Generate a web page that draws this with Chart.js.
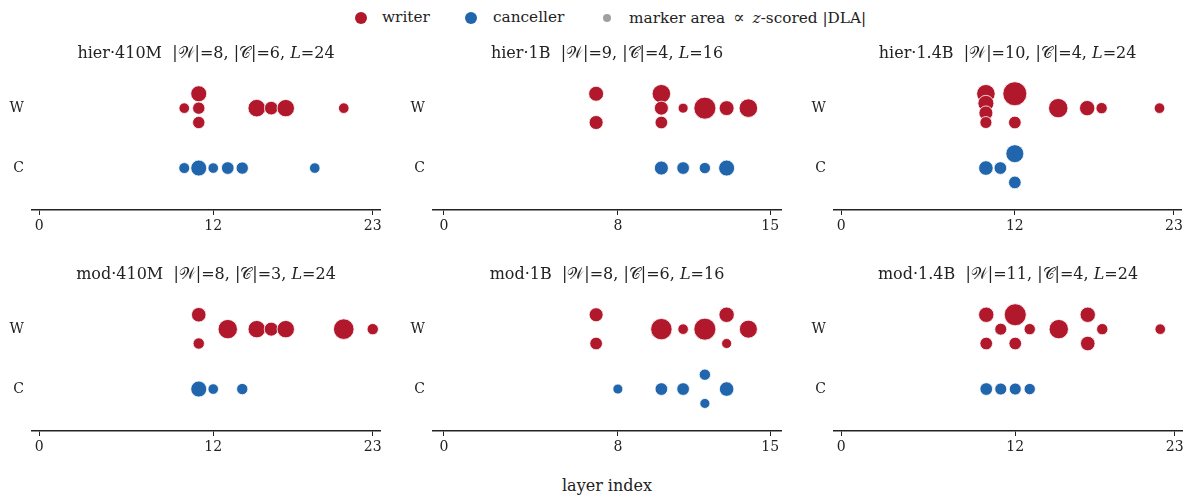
<!DOCTYPE html>
<html>
<head>
<meta charset="utf-8">
<script src="https://cdn.jsdelivr.net/npm/chart.js@4.4.1/dist/chart.umd.min.js"></script>
<style>
body{margin:0;background:#fff;width:1194px;height:501px;position:relative;overflow:hidden;font-family:'DejaVu Serif',serif;color:#222}
canvas{position:absolute}
.lg{position:absolute;top:8px;font-size:15.3px;line-height:19px;white-space:nowrap}
.dot{position:absolute;border-radius:50%}
#xlabel{position:absolute;left:0;width:1214px;top:476px;text-align:center;font-size:16px}
</style>
</head>
<body>
<div class="dot" style="left:354.5px;top:11.5px;width:12px;height:12px;background:#b2182b"></div>
<div class="lg" style="left:382px">writer</div>
<div class="dot" style="left:465px;top:11.5px;width:12px;height:12px;background:#2166ac"></div>
<div class="lg" style="left:493px">canceller</div>
<div class="dot" style="left:603px;top:14px;width:8px;height:8px;background:#a0a0a0"></div>
<div class="lg" style="left:629px">marker area<span style="margin:0 8px 0 8px;font-size:17px">&#8733;</span><i>z</i>-scored |DLA|</div>
<div id="xlabel">layer index</div>

<canvas id="p0" width="392" height="200" style="left:0px;top:40px"></canvas>
<canvas id="p1" width="392" height="200" style="left:401px;top:40px"></canvas>
<canvas id="p2" width="392" height="200" style="left:802px;top:40px"></canvas>
<canvas id="p3" width="392" height="200" style="left:0px;top:261px"></canvas>
<canvas id="p4" width="392" height="200" style="left:401px;top:261px"></canvas>
<canvas id="p5" width="392" height="200" style="left:802px;top:261px"></canvas>

<script>
// panels, in reading order
var panelNames = ['hier·410M', 'hier·1B', 'hier·1.4B', 'mod·410M', 'mod·1B', 'mod·1.4B'];
var layerCounts = [24, 16, 24, 24, 16, 24];
var rowLabels = ['C', 'W'];

// [layer, z-scored |DLA|] ; same-layer entries listed top to bottom
var hier410M_W = [[10,0.8],[11,4.4],[11,1.8],[11,1.8],[15,5.7],[16,2.6],[17,5.6],[21,0.8]];
var hier410M_C = [[10,1.0],[11,4.4],[12,0.8],[13,2.0],[14,1.8],[19,0.8]];
var hier1B_W = [[7,3.6],[7,2.9],[10,6.6],[10,2.9],[10,2.0],[11,0.5],[12,10.1],[13,3.6],[14,6.6]];
var hier1B_C = [[10,2.9],[11,2.0],[12,1.2],[13,4.4]];
var hier14B_W = [[10,6.6],[10,4.4],[10,2.9],[10,1.6],[12,12.4],[12,2.0],[15,7.4],[17,3.9],[18,1.2],[22,0.8]];
var hier14B_C = [[10,3.3],[11,2.0],[12,6.1],[12,2.0]];
var mod410M_W = [[11,3.3],[11,1.2],[13,7.4],[15,5.6],[16,2.9],[17,5.6],[21,8.6],[23,1.2]];
var mod410M_C = [[11,4.4],[12,0.8],[14,1.2]];
var mod1B_W = [[7,2.9],[7,2.0],[10,9.4],[11,0.8],[12,10.1],[13,3.9],[13,0.5],[14,6.1]];
var mod1B_C = [[8,0.5],[10,2.0],[11,2.0],[12,1.2],[12,0.5],[13,3.3]];
var mod14B_W = [[10,3.9],[10,2.0],[11,1.6],[12,10.1],[12,2.0],[13,1.2],[15,7.4],[17,3.9],[17,3.3],[18,1.2],[22,0.8]];
var mod14B_C = [[10,2.0],[11,1.6],[12,1.6],[13,1.2]];

var writers = [hier410M_W, hier1B_W, hier14B_W, mod410M_W, mod1B_W, mod14B_W];
var cancellers = [hier410M_C, hier1B_C, hier14B_C, mod410M_C, mod1B_C, mod14B_C];

var RED = '#b2182b', BLUE = '#2166ac';
var FONT = "'DejaVu Serif', serif";

// spread points sharing a layer vertically around the row
function toPoints(list, row) {
    var counts = {}, seen = {};
    list.forEach(function(p) { counts[p[0]] = (counts[p[0]] || 0) + 1; });
    return list.map(function(p) {
        var n = counts[p[0]];
        var k = seen[p[0]] || 0;
        seen[p[0]] = k + 1;
        var off = n > 1 ? 0.24 - k * 0.48 / (n - 1) : 0;
        return {x: p[0], y: row + off, z: p[1]};
    });
}

function radius(ctx) {
    var z = ctx.raw ? ctx.raw.z : 0;
    return Math.sqrt(20 + 10 * z);
}

panelNames.forEach(function(name, i) {
    var L = layerCounts[i];
    var W = writers[i], C = cancellers[i];
    new Chart(document.getElementById('p' + i).getContext('2d'), {
        type: 'scatter',
        data: {
            datasets: [{
                label: 'writer',
                data: toPoints(W, 1),
                backgroundColor: RED,
                borderColor: '#ffffff',
                borderWidth: 0.8,
                pointRadius: radius
            }, {
                label: 'canceller',
                data: toPoints(C, 0),
                backgroundColor: BLUE,
                borderColor: '#ffffff',
                borderWidth: 0.8,
                pointRadius: radius
            }]
        },
        options: {
            responsive: false,
            animation: false,
            events: [],
            layout: {padding: {top: 4, right: 12, left: 0, bottom: 0}},
            plugins: {
                legend: {display: false},
                tooltip: {enabled: false},
                title: {
                    display: true,
                    fullSize: false,
                    text: name + '  |\u{1D4B2}|=' + W.length + ', |\u{1D49E}|=' + C.length + ', \u{1D43F}=' + L,
                    color: '#222',
                    font: {family: FONT, size: 16, weight: 'normal'},
                    padding: {top: 0, bottom: 3}
                }
            },
            scales: {
                x: {
                    type: 'linear',
                    min: -0.5,
                    max: L - 0.5,
                    afterBuildTicks: function(s) {
                        s.ticks = [{value: 0}, {value: L / 2}, {value: L - 1}];
                    },
                    afterFit: function(s) { s.height = 30; },
                    grid: {drawOnChartArea: false, drawTicks: true, tickLength: 5, color: '#222', lineWidth: 1},
                    border: {display: true, color: '#222', width: 1.5},
                    ticks: {color: '#222', font: {family: FONT, size: 14}, padding: 3, autoSkip: false, maxRotation: 0}
                },
                y: {
                    type: 'linear',
                    min: -0.7,
                    max: 1.7,
                    afterBuildTicks: function(s) {
                        s.ticks = [{value: 0}, {value: 1}];
                    },
                    afterFit: function(s) { s.width = 32; },
                    grid: {display: false, drawTicks: false},
                    border: {display: false},
                    ticks: {
                        color: '#222',
                        font: {family: FONT, size: 14},
                        padding: 8,
                        crossAlign: 'near',
                        callback: function(v) { return rowLabels[v]; }
                    }
                }
            }
        }
    });
});
</script>
</body>
</html>
